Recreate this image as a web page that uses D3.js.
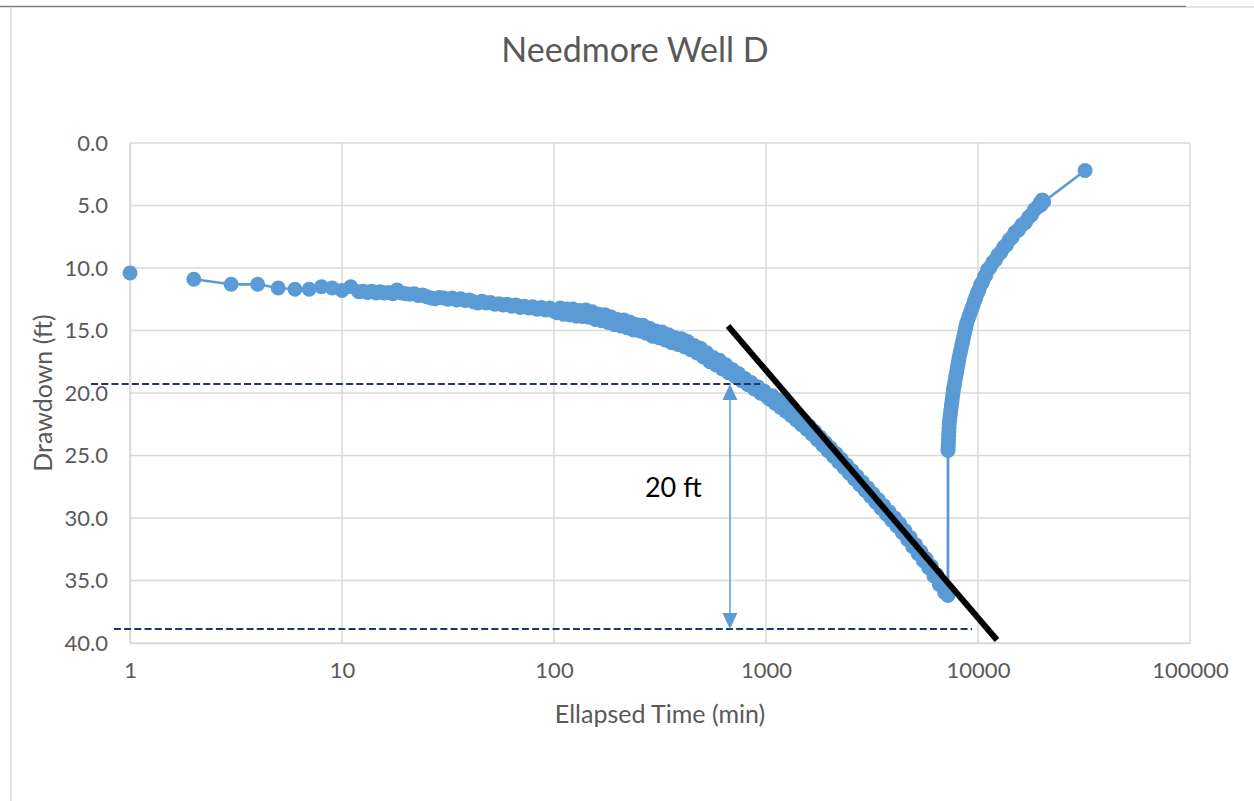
<!DOCTYPE html>
<html><head><meta charset="utf-8">
<script src="https://cdn.jsdelivr.net/npm/d3@7/dist/d3.min.js"></script>
<style>
html,body{margin:0;padding:0;background:#fff;}
svg{display:block;}
text{font-family:Lato,"Open Sans",sans-serif;}
</style></head>
<body>
<svg id="chart" width="1254" height="801"></svg>
<script>
// ---- Data ----
const title = "Needmore Well D";
const xTitle = "Ellapsed Time (min)";
const yTitle = "Drawdown (ft)";
const xTicks = [1, 10, 100, 1000, 10000, 100000];
const yTicks = [0, 5, 10, 15, 20, 25, 30, 35, 40];

// early readings (a gap in the record follows the first reading)
const earlyTime = [1, 2, 3, 4, 5, 6, 7, 8, 9, 10, 11];
const earlyDD   = [10.4, 10.9, 11.3, 11.3, 11.6, 11.7, 11.7, 11.5, 11.6, 11.8, 11.5];
const gapAfterIndex = 0;

// pumping phase, elapsed time (min) and drawdown (ft)
const pumpTime = [12, 12.6, 13.2, 13.8, 14.5, 15.1, 15.8, 16.6, 17.4, 18.2, 19.1, 20.0, 20.9, 21.9, 22.9, 24.0, 25.1, 26.3, 27.5, 28.8,
  30.2, 31.6, 33.1, 34.7, 36.3, 38.0, 39.8, 41.7, 43.7, 45.7, 47.9, 50.1, 52.5, 55.0, 57.5, 60.3, 63.1, 66.1, 69.2, 72.4,
  75.9, 79.4, 83.2, 87.1, 91.2, 95.5, 100,
  103.5, 107.2, 110.9, 114.8, 118.9, 123.0, 127.4, 131.8, 136.5, 141.3, 146.2, 151.4, 156.7, 162.2, 167.9, 173.8, 179.9, 186.2, 192.8, 199.5,
  206.5, 213.8, 221.3, 229.1, 237.1, 245.5, 254.1, 263.0, 272.3, 281.8, 291.7, 302.0, 312.6, 323.6, 335.0, 346.7, 358.9, 371.5, 384.6, 398.1,
  412.1, 426.6, 441.6, 457.1, 473.2, 489.8, 507.0, 524.8, 543.3, 562.3, 582.1, 602.6, 623.7, 645.7, 668.3, 691.8, 716.1, 741.3, 767.4, 794.3,
  822.2, 851.1, 881.0, 912.0, 944.1, 977.2, 1011.6,
  1041, 1072, 1103, 1135, 1168, 1202, 1237, 1274, 1311, 1349, 1388, 1429, 1471, 1514, 1558, 1603, 1650, 1698, 1748, 1799,
  1851, 1905, 1961, 2018, 2077, 2138, 2200, 2265, 2331, 2399, 2469, 2541, 2615, 2692, 2770, 2851, 2935, 3020, 3109, 3199,
  3293, 3388, 3487, 3589, 3694, 3802, 3913, 4027, 4145, 4266, 4390, 4519, 4651, 4786, 4926, 5070, 5218, 5370, 5527, 5689,
  5855, 6026, 6202, 6383, 6569, 6761, 6959, 7161, 7215];
const pumpDD = [11.9, 11.85, 11.95, 11.85, 12.0, 11.9, 12.0, 11.95, 12.05, 11.75, 12.0, 12.05, 12.1, 12.05, 12.2, 12.15, 12.3, 12.4, 12.45, 12.35,
  12.4, 12.5, 12.4, 12.55, 12.45, 12.6, 12.55, 12.7, 12.8, 12.65, 12.8, 12.75, 12.9, 12.85, 12.95, 12.9, 13.05, 12.95, 13.15, 13.05,
  13.2, 13.1, 13.3, 13.15, 13.35, 13.2, 13.45,
  13.57, 13.20, 13.69, 13.27, 13.75, 13.28, 13.86, 13.39, 13.88, 13.36, 13.94, 13.50, 14.12, 13.69, 14.21, 13.73, 14.35, 13.92, 14.54, 14.11,
  14.63, 14.15, 14.77, 14.34, 14.96, 14.53, 15.04, 14.58, 15.22, 14.81, 15.45, 15.04, 15.58, 15.12, 15.76, 15.34, 15.98, 15.57, 16.11, 15.65,
  16.29, 15.88, 16.53, 16.19, 16.80, 16.41, 17.12, 16.78, 17.49, 17.15, 17.76, 17.37, 18.08, 17.74, 18.40, 18.11, 18.68, 18.44, 19.01, 18.83,
  19.34, 19.16, 19.68, 19.49, 20.01, 19.83, 20.29,
  20.50, 20.22, 20.82, 20.54, 21.14, 20.86, 21.46, 21.18, 21.79, 21.53, 22.16, 21.90, 22.53, 22.27, 22.90, 22.64, 23.30, 23.08, 23.74, 23.52,
  24.18, 23.96, 24.62, 24.40, 25.06, 24.84, 25.51, 25.29, 25.96, 25.75, 26.42, 26.21, 26.88, 26.67, 27.34, 27.13, 27.80, 27.59, 28.26, 28.06,
  28.74, 28.54, 29.21, 29.01, 29.69, 29.49, 30.17, 29.97, 30.64, 30.44, 31.16, 31.00, 31.72, 31.56, 32.29, 32.13, 32.85, 32.69, 33.42, 33.26,
  33.98, 33.85, 34.63, 34.53, 35.31, 35.21, 35.95, 35.95, 36.2];

// recovery phase
const recovTime = [7220, 7233, 7246, 7261, 7275, 7289, 7302, 7316, 7346, 7383, 7420, 7457, 7494, 7532, 7570, 7608, 7646,
  7702, 7758, 7814, 7871, 7928, 7986, 8044, 8102, 8162, 8235, 8309, 8384, 8459, 8535, 8611, 8689, 8767, 8846,
  8974, 9105, 9238, 9372, 9508, 9647, 9788, 9931, 10093, 10287, 10486, 10688, 10895, 11106, 11397, 11734, 12079, 12435, 12801,
  13196, 13611, 14039, 14480, 14936, 15515, 16118, 16744, 17317, 17862, 18424, 19004, 19603, 19800, 20100, 20400, 32000];
const recovDD = [24.6, 24.3, 24.0, 23.7, 23.4, 23.1, 22.8, 22.5, 22.2, 21.9, 21.6, 21.3, 21.0, 20.7, 20.4, 20.1, 19.8,
  19.5, 19.2, 18.9, 18.6, 18.3, 18.0, 17.7, 17.4, 17.1, 16.8, 16.5, 16.2, 15.9, 15.6, 15.3, 15.0, 14.7, 14.4,
  14.1, 13.8, 13.5, 13.2, 12.9, 12.6, 12.3, 12.0, 11.75, 11.35, 11.15, 10.75, 10.55, 10.15, 9.95, 9.55, 9.35, 8.95, 8.75,
  8.35, 8.15, 7.75, 7.55, 7.15, 6.95, 6.55, 6.35, 5.95, 5.75, 5.35, 5.15, 4.8, 4.95, 4.55, 4.7, 2.2];

// annotations (data units)
const straightLineT = [662, 12290];
const straightLineD = [14.64, 39.76];
const upperDashT = [0.655, 937];
const upperDashD = 19.28;
const lowerDashT = [0.84, 9375];
const lowerDashD = 38.88;
const arrowT = 676;
const annotationLabel = "20 ft";

// ---- Layout ----
const W = 1254, H = 801;
const m = {left: 130, top: 143, right: 64, bottom: 158};
const pw = W - m.left - m.right, ph = H - m.top - m.bottom;
const blue = "#5B9BD5", grid = "#d9d9d9", txt = "#595959";

const svg = d3.select("#chart");

// outer frame
svg.append("line").attr("x1", 0).attr("x2", 1186).attr("y1", 6.5).attr("y2", 6.5).attr("stroke", "#7f7f7f").attr("stroke-width", 1.5);
svg.append("line").attr("x1", 1186).attr("x2", 1254).attr("y1", 7).attr("y2", 7).attr("stroke", grid).attr("stroke-width", 1.5);
svg.append("line").attr("x1", 11).attr("x2", 11).attr("y1", 7).attr("y2", H).attr("stroke", grid).attr("stroke-width", 1.5);

const x = d3.scaleLog().domain([1, 100000]).range([m.left, m.left + pw]);
const y = d3.scaleLinear().domain([0, 40]).range([m.top, m.top + ph]);

// gridlines
svg.append("g").selectAll("line").data(yTicks).join("line")
  .attr("x1", m.left).attr("x2", m.left + pw)
  .attr("y1", d => y(d)).attr("y2", d => y(d))
  .attr("stroke", grid).attr("stroke-width", 1.5);
svg.append("g").selectAll("line").data(xTicks).join("line")
  .attr("x1", d => x(d)).attr("x2", d => x(d))
  .attr("y1", m.top).attr("y2", m.top + ph)
  .attr("stroke", grid).attr("stroke-width", 1.5);

// axes
const xAxis = d3.axisBottom(x).tickValues(xTicks).tickFormat(d3.format("d")).tickSize(0).tickPadding(24);
const gx = svg.append("g").attr("transform", `translate(0,${m.top + ph})`).call(xAxis);
gx.select(".domain").attr("stroke", grid).attr("stroke-width", 1.5);
gx.selectAll("text").attr("fill", txt).style("font-size", "22px").attr("dy", "0.5em");

const yAxis = d3.axisLeft(y).tickValues(yTicks).tickFormat(d3.format(".1f")).tickSize(0).tickPadding(22);
const gy = svg.append("g").attr("transform", `translate(${m.left},0)`).call(yAxis);
gy.select(".domain").attr("stroke", grid).attr("stroke-width", 1.5);
gy.selectAll("text").attr("fill", txt).style("font-size", "22px");

// titles
svg.append("text").attr("x", 635).attr("y", 62).attr("text-anchor", "middle")
  .attr("fill", txt).style("font-size", "34px").text(title);
svg.append("text").attr("x", 660).attr("y", 723).attr("text-anchor", "middle")
  .attr("fill", txt).style("font-size", "25px").text(xTitle);
svg.append("text").attr("transform", "translate(52,393) rotate(-90)").attr("text-anchor", "middle")
  .attr("fill", txt).style("font-size", "25px").text(yTitle);

// series
const pts = [];
earlyTime.forEach((t, i) => {
  pts.push({t, d: earlyDD[i]});
  if (i === gapAfterIndex) pts.push({t, d: null});
});
pumpTime.forEach((t, i) => pts.push({t, d: pumpDD[i] ?? null}));
recovTime.forEach((t, i) => pts.push({t, d: recovDD[i] ?? null}));

const line = d3.line().defined(p => p.d != null).x(p => x(p.t)).y(p => y(p.d));
svg.append("path").datum(pts).attr("d", line)
  .attr("fill", "none").attr("stroke", blue).attr("stroke-width", 2.75).attr("stroke-linejoin", "round");
svg.append("g").selectAll("circle").data(pts.filter(p => p.d != null)).join("circle")
  .attr("cx", p => x(p.t)).attr("cy", p => y(p.d)).attr("r", 7.5).attr("fill", blue);

// dashed reference lines
svg.append("line").attr("x1", x(upperDashT[0])).attr("x2", x(upperDashT[1]))
  .attr("y1", y(upperDashD)).attr("y2", y(upperDashD))
  .attr("stroke", "#1f3864").attr("stroke-width", 2.2).attr("stroke-dasharray", "7,3.2");
svg.append("line").attr("x1", x(lowerDashT[0])).attr("x2", x(lowerDashT[1]))
  .attr("y1", y(lowerDashD)).attr("y2", y(lowerDashD))
  .attr("stroke", "#1f3864").attr("stroke-width", 2.2).attr("stroke-dasharray", "7,3.2");

// double arrow
const ax = x(arrowT), ay1 = y(upperDashD), ay2 = y(lowerDashD);
const headL = 16, headW = 7.5;
svg.append("line").attr("x1", ax).attr("x2", ax).attr("y1", ay1 + headL).attr("y2", ay2 - headL)
  .attr("stroke", blue).attr("stroke-width", 1.5);
svg.append("path").attr("d", `M${ax},${ay1}L${ax - headW},${ay1 + headL}L${ax + headW},${ay1 + headL}Z`).attr("fill", blue);
svg.append("path").attr("d", `M${ax},${ay2}L${ax - headW},${ay2 - headL}L${ax + headW},${ay2 - headL}Z`).attr("fill", blue);

svg.append("text").attr("x", ax - 85).attr("y", 497).attr("fill", "#000")
  .style("font-size", "27px").text(annotationLabel);

// straight-line fit
svg.append("line")
  .attr("x1", x(straightLineT[0])).attr("y1", y(straightLineD[0]))
  .attr("x2", x(straightLineT[1])).attr("y2", y(straightLineD[1]))
  .attr("stroke", "#000").attr("stroke-width", 6);
</script>
</body></html>
